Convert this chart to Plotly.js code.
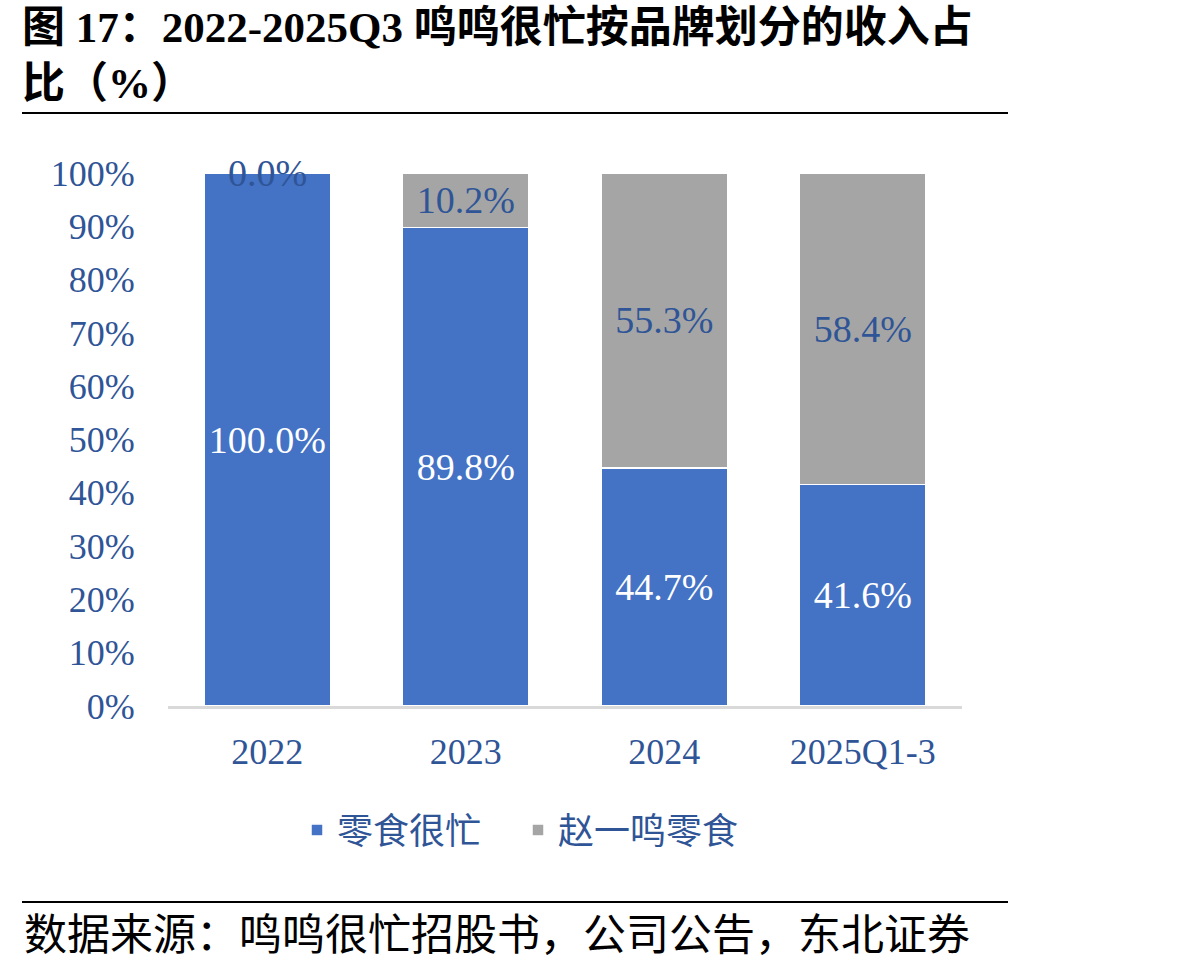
<!DOCTYPE html>
<html>
<head>
<meta charset="utf-8">
<script src="https://cdn.plot.ly/plotly-3.0.1.min.js"></script>
<style>html,body{margin:0;padding:0;background:#fff;}#chart{width:1198px;height:968px;}</style>
</head>
<body>
<div id="chart"></div>
<script>
const categories = ['2022', '2023', '2024', '2025Q1-3'];
const lingshihenmang = [100.0, 89.8, 44.7, 41.6];
const zhaoyiming = [0.0, 10.2, 55.3, 58.4];
const seriesNames = ['零食很忙', '赵一鸣零食'];
const yTicks = [0, 10, 20, 30, 40, 50, 60, 70, 80, 90, 100];

const FONT = '"Liberation Serif", "Noto Sans CJK SC", serif';
const BLUE_TEXT = '#2F5597';
const W = 1198, H = 968;
const L = 168, R = 962, T = 173, B = 706;
const px2x = p => (p - L) / (R - L);
const px2y = q => (B - q) / (B - T);
const fmt = v => v.toFixed(1) + '%';

const traces = [
  {
    type: 'bar', name: seriesNames[0], x: categories, y: lingshihenmang,
    marker: {color: '#4472C4', line: {color: '#FFFFFF', width: 1.5}},
    text: lingshihenmang.map(fmt), textposition: 'inside', insidetextanchor: 'middle',
    textfont: {family: FONT, size: 38, color: '#FFFFFF'}, constraintext: 'none',
    hoverinfo: 'skip'
  },
  {
    type: 'bar', name: seriesNames[1], x: categories, y: zhaoyiming,
    marker: {color: '#A5A5A5', line: {color: '#FFFFFF', width: 1.5}},
    text: zhaoyiming.map(fmt), textposition: 'inside', insidetextanchor: 'middle',
    textfont: {family: FONT, size: 38, color: BLUE_TEXT}, constraintext: 'none',
    hoverinfo: 'skip'
  }
];

const annotations = [];
zhaoyiming.forEach((v, i) => {
  if (v === 0) {
    annotations.push({x: i, y: lingshihenmang[i] + v, xref: 'x', yref: 'y',
      text: fmt(v), showarrow: false, yanchor: 'middle',
      font: {family: FONT, size: 38, color: BLUE_TEXT}});
  }
});
annotations.push({
  xref: 'paper', yref: 'paper', x: px2x(22), y: px2y(935), xanchor: 'left', yanchor: 'middle',
  text: '数据来源：鸣鸣很忙招股书，公司公告，东北证券', showarrow: false,
  font: {family: FONT, size: 43, color: '#000000'}
});

const layout = {
  width: W, height: H,
  paper_bgcolor: '#FFFFFF', plot_bgcolor: '#FFFFFF',
  margin: {l: L, r: W - R, t: T, b: H - B, pad: 0},
  barmode: 'stack', bargap: 0.365,
  showlegend: true,
  title: {
    text: '图 17：2022-2025Q3 鸣鸣很忙按品牌划分的收入占<br>比（%）',
    xref: 'container', yref: 'container', x: 22 / W, xanchor: 'left', y: 1 - 42 / H, yanchor: 'top',
    font: {family: FONT, size: 43, color: '#000000', weight: 'bold'}
  },
  xaxis: {
    type: 'category', categoryorder: 'array', categoryarray: categories, range: [-0.5, categories.length - 0.5],
    showline: true, linecolor: '#D9D9D9', linewidth: 3, showgrid: false, zeroline: false,
    ticks: 'outside', ticklen: 12, tickcolor: 'rgba(0,0,0,0)',
    tickfont: {family: FONT, size: 36, color: BLUE_TEXT}
  },
  yaxis: {
    range: [0, 100], tickvals: yTicks, ticktext: yTicks.map(v => v + '%'),
    showline: false, showgrid: false, zeroline: false,
    ticks: 'outside', ticklen: 25, tickcolor: 'rgba(0,0,0,0)',
    tickfont: {family: FONT, size: 36, color: BLUE_TEXT}
  },
  legend: {
    orientation: 'h', x: px2x(297), y: px2y(830), xanchor: 'left', yanchor: 'middle',
    font: {family: FONT, size: 36, color: BLUE_TEXT}, entrywidth: 176, entrywidthmode: 'pixels',
    traceorder: 'normal'
  },
  shapes: [
    {type: 'line', xref: 'paper', yref: 'paper', x0: px2x(22), x1: px2x(1008), y0: px2y(113), y1: px2y(113), line: {color: '#000000', width: 2}},
    {type: 'line', xref: 'paper', yref: 'paper', x0: px2x(22), x1: px2x(1008), y0: px2y(902), y1: px2y(902), line: {color: '#000000', width: 2}}
  ],
  annotations: annotations,
  hovermode: false
};

Plotly.newPlot('chart', traces, layout, {displayModeBar: false, staticPlot: true});
</script>
</body>
</html>
